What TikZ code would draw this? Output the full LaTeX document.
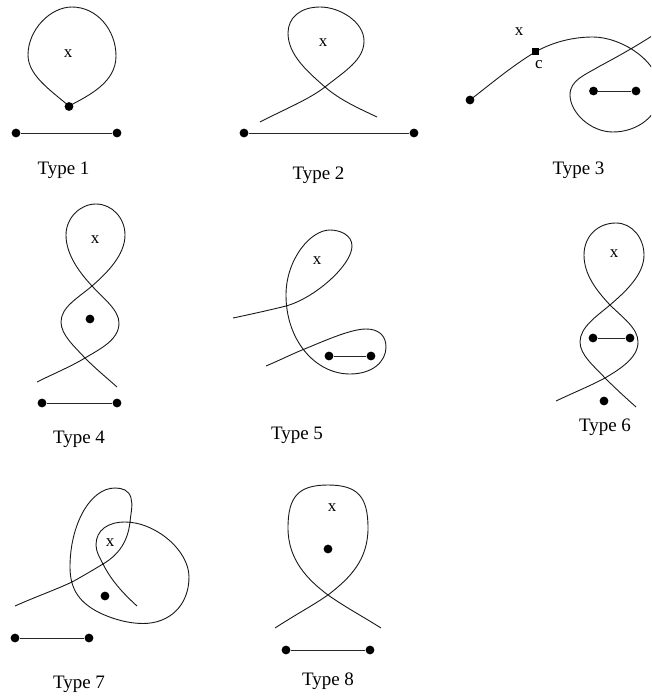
\documentclass[tikz,border=0pt]{standalone}
\usepackage{fontspec}
\setmainfont{Liberation Serif}
\tikzset{
  x=1pt,y=-1pt,
  dot/.style={circle,fill=black,draw=none,inner sep=0pt,minimum size=8.8pt},
  sq/.style={rectangle,fill=black,draw=none,inner sep=0pt,minimum size=6.6pt},
  seg/.style={line width=0.9pt,black!85},
  curve/.style={line width=0.9pt,black!90},
  lab/.style={font=\fontsize{19}{20}\selectfont,inner sep=0pt},
  mk/.style={font=\fontsize{17}{20}\selectfont,inner sep=0pt}
}
\begin{document}
\begin{tikzpicture}
\useasboundingbox (0,0) rectangle (651,698);
\clip (0,0) rectangle (651,698);
% Type 1
\draw[curve] (69,106) .. controls (50,90) and (28,75) .. (28,55)
  .. controls (28,30) and (50,7) .. (72,7)
  .. controls (97,7) and (116,30) .. (116,56)
  .. controls (116,82) and (90,95) .. (69,106);
\node[dot] (a0) at (69,106.5) {};
\node[dot] (a1) at (16,133) {};
\node[dot] (a2) at (117,133) {};
\draw[seg] (a1) -- (a2);
\node[mk] (ax) at (68,54) {x};
\node[lab] (at) at (63.5,170) {Type 1};
% Type 2
\draw[curve] (260,122) .. controls (285,109) and (308,100) .. (325,87)
  .. controls (345,71) and (364,60) .. (364,41)
  .. controls (364,22) and (340,7) .. (320,7)
  .. controls (300,7) and (288,18) .. (288,33)
  .. controls (288,55) and (308,72) .. (325,87)
  .. controls (340,100) and (358,108) .. (377,117);
\node[dot] (b1) at (244,133) {};
\node[dot] (b2) at (414,133) {};
\draw[seg] (b1) -- (b2);
\node[mk] (bx) at (323,43) {x};
\node[lab] (bt) at (318.5,175) {Type 2};
% Type 3
\draw[curve] (470,100) .. controls (492,83) and (512,66) .. (535.7,51.7)
  .. controls (555,41) and (575,37) .. (593,37)
  .. controls (620,37) and (660,60) .. (660,92)
  .. controls (660,115) and (638,132) .. (613,132)
  .. controls (590,132) and (570,112) .. (570,95)
  .. controls (570,80) and (585,75) .. (600,66)
  .. controls (615,58) and (635,47) .. (655,34);
\node[dot] (c0) at (470,100) {};
\node[sq] (cs) at (535.7,51.7) {};
\node[dot] (c1) at (593.5,91) {};
\node[dot] (c2) at (636,91) {};
\draw[seg] (c1) -- (c2);
\node[mk] (cx) at (519,32) {x};
\node[mk] (cc) at (539,65) {c};
\node[lab] (ct) at (578.5,170) {Type 3};
% Type 4
\draw[curve] (37,382) .. controls (55,373) and (70,367) .. (85,358)
  .. controls (100,349) and (119,340) .. (119,323)
  .. controls (119,310) and (103,298) .. (92,286)
  .. controls (80,273) and (66,255) .. (66,235)
  .. controls (66,218) and (80,204) .. (96,204)
  .. controls (112,204) and (125,218) .. (125,235)
  .. controls (125,255) and (107,273) .. (92,286)
  .. controls (78,298) and (61,307) .. (61,322)
  .. controls (61,335) and (75,347) .. (85,358)
  .. controls (97,370) and (107,378) .. (117,387);
\node[dot] (d0) at (90,319) {};
\node[dot] (d1) at (42,403) {};
\node[dot] (d2) at (117,403) {};
\draw[seg] (d1) -- (d2);
\node[mk] (dx) at (95,240) {x};
\node[lab] (dt) at (79,439) {Type 4};
% Type 5
\draw[curve] (233,318) .. controls (252,314) and (270,310) .. (286,306)
  .. controls (315,298) and (352,265) .. (352,246)
  .. controls (352,235) and (340,230) .. (330,230)
  .. controls (310,230) and (286,260) .. (286,295)
  .. controls (286,340) and (315,374) .. (350,374)
  .. controls (372,374) and (386,362) .. (386,347)
  .. controls (386,335) and (378,329) .. (366,329)
  .. controls (350,329) and (322,342) .. (302,350)
  .. controls (290,355) and (278,361) .. (266,366);
\node[dot] (e1) at (329,356) {};
\node[dot] (e2) at (371,356) {};
\draw[seg] (e1) -- (e2);
\node[mk] (ex) at (317,261) {x};
\node[lab] (et) at (297,435) {Type 5};
% Type 6
\draw[curve] (556,401) .. controls (575,392) and (590,386) .. (605,378)
  .. controls (620,369) and (638,358) .. (638,342)
  .. controls (638,328) and (622,317) .. (610,305)
  .. controls (597,291) and (584,275) .. (584,255)
  .. controls (584,236) and (598,223) .. (616,223)
  .. controls (632,223) and (644,238) .. (644,255)
  .. controls (644,275) and (625,292) .. (610,305)
  .. controls (597,316) and (580,327) .. (580,342)
  .. controls (580,355) and (594,366) .. (605,378)
  .. controls (615,388) and (626,398) .. (636,407);
\node[dot] (f1) at (593,338) {};
\node[dot] (f2) at (630,338) {};
\node[dot] (f0) at (604,401) {};
\draw[seg] (f1) -- (f2);
\node[mk] (fx) at (614,254) {x};
\node[lab] (ft) at (605,427) {Type 6};
% Type 7
\draw[curve] (15,606) .. controls (35,597) and (55,590) .. (72,582)
  .. controls (83,576) and (93,570) .. (103,564)
  .. controls (120,554) and (128,540) .. (130,522)
  .. controls (131,512) and (133,505) .. (131,498)
  .. controls (129,490) and (122,488) .. (115,488)
  .. controls (90,488) and (70,525) .. (70,567)
  .. controls (70,590) and (80,603) .. (100,613)
  .. controls (115,620) and (130,623.5) .. (143,623.5)
  .. controls (170,623.5) and (189,605) .. (189,577)
  .. controls (189,550) and (155,522) .. (125,522)
  .. controls (108,522) and (96,530) .. (96,545)
  .. controls (96,552) and (100,558) .. (103,564)
  .. controls (112,582) and (125,595) .. (137,606);
\node[dot] (g0) at (105,596) {};
\node[dot] (g1) at (15,638) {};
\node[dot] (g2) at (89,638) {};
\draw[seg] (g1) -- (g2);
\node[mk] (gx) at (110,543) {x};
\node[lab] (gt) at (79,684) {Type 7};
% Type 8
\draw[curve] (275,628) .. controls (295,615) and (312,606) .. (328,595)
  .. controls (350,578) and (368,560) .. (368,528)
  .. controls (368,497) and (358,485) .. (328,485)
  .. controls (298,485) and (288,497) .. (288,528)
  .. controls (288,560) and (308,580) .. (328,595)
  .. controls (345,607) and (362,616) .. (381,628);
\node[dot] (h0) at (328,549) {};
\node[dot] (h1) at (286,650) {};
\node[dot] (h2) at (370,650) {};
\draw[seg] (h1) -- (h2);
\node[mk] (hx) at (332,508) {x};
\node[lab] (ht) at (328,681) {Type 8};
\end{tikzpicture}
\end{document}
